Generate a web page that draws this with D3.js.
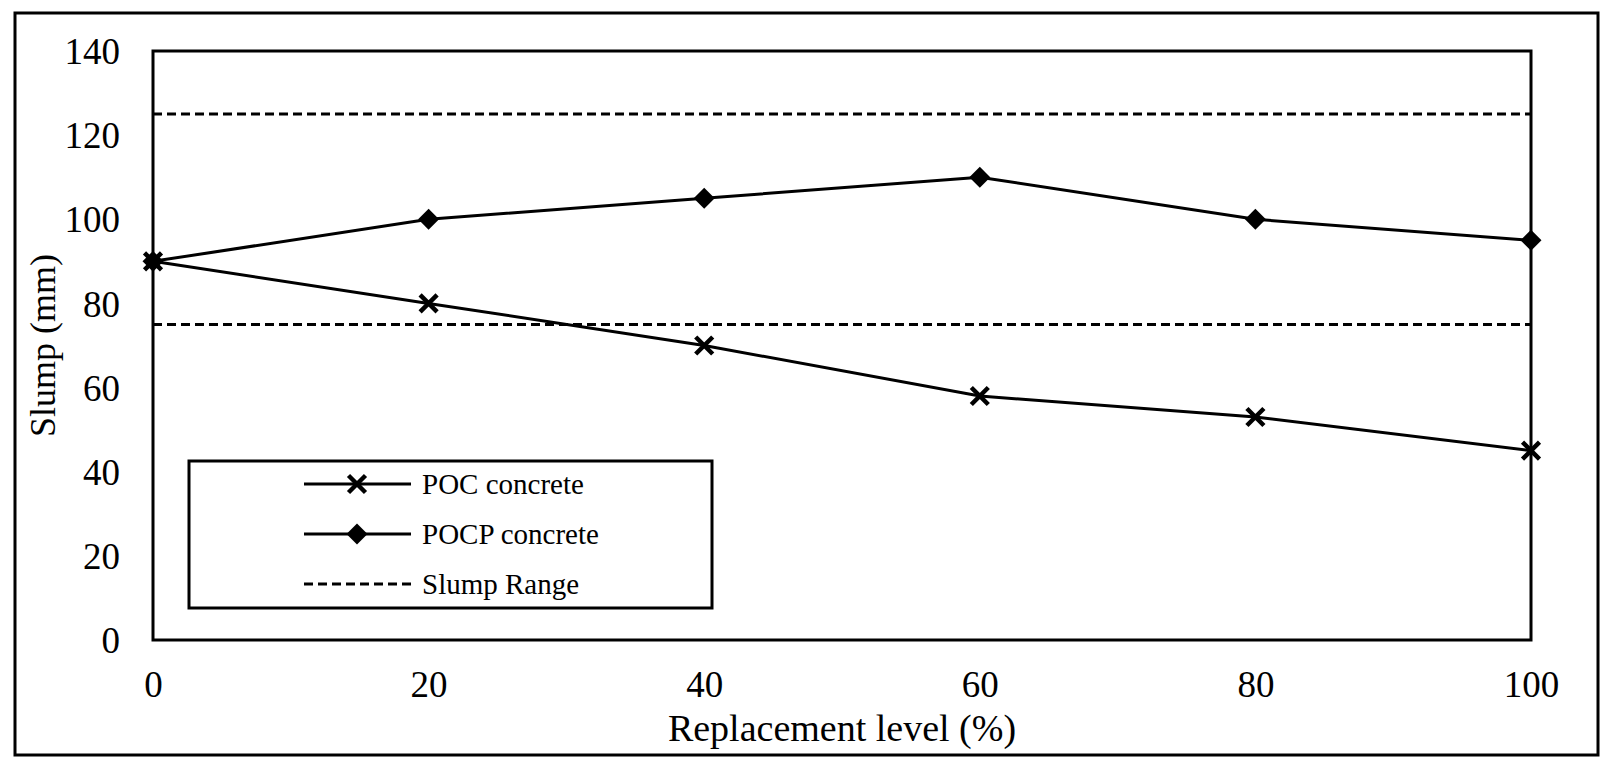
<!DOCTYPE html>
<html>
<head>
<meta charset="utf-8">
<script src="https://cdn.jsdelivr.net/npm/d3@7"></script>
<style>
  body { margin: 0; background: #fff; }
  svg { display: block; }
  svg text { font-family: "Liberation Serif", "Times New Roman", serif; fill: #000; }
</style>
</head>
<body>
<div id="chart1"></div>
<script>
// データ
const levels = [0, 20, 40, 60, 80, 100];
const pocSlump = [90, 80, 70, 58, 53, 45];
const pocpSlump = [90, 100, 105, 110, 100, 95];
const slumpRange = [75, 125];
const xTicks = [0, 20, 40, 60, 80, 100];
const yTicks = [0, 20, 40, 60, 80, 100, 120, 140];
const legendNames = ["POC concrete", "POCP concrete", "Slump Range"];

const W = 1615, H = 775;
const margin = { top: 51, left: 153, right: 84, bottom: 135 };
const width = W - margin.left - margin.right;
const height = H - margin.top - margin.bottom;
const lw = 3;

const svg = d3.select("#chart1").append("svg")
    .attr("width", W)
    .attr("height", H)
    .attr("font-family", "Liberation Serif, serif");

// 外枠
svg.append("rect")
    .attr("x", 15).attr("y", 13)
    .attr("width", 1583).attr("height", 742)
    .attr("fill", "none")
    .attr("stroke", "#000")
    .attr("stroke-width", lw);

const xScale = d3.scaleLinear().domain([0, 100]).range([0, width]);
const yScale = d3.scaleLinear().domain([0, 140]).range([height, 0]);

const g = svg.append("g")
    .attr("transform", `translate(${margin.left},${margin.top})`);

// 軸ラベル
const xAxis = g.append("g")
    .attr("transform", `translate(0,${height})`)
    .call(d3.axisBottom(xScale).tickValues(xTicks).tickSize(0).tickPadding(30));
const yAxis = g.append("g")
    .call(d3.axisLeft(yScale).tickValues(yTicks).tickSize(0).tickPadding(33));

[xAxis, yAxis].forEach(a => {
    a.select(".domain").remove();
    a.selectAll("text")
        .attr("font-family", "Liberation Serif, serif")
        .attr("font-size", "37px")
        .attr("fill", "#000");
});
yAxis.selectAll("text").attr("dy", "0.34em");
xAxis.selectAll("text").attr("dy", "0.72em");

// スランプ範囲（破線）
g.selectAll(".range-line")
    .data(slumpRange)
    .enter()
    .append("line")
    .attr("class", "range-line")
    .attr("x1", 0).attr("x2", width)
    .attr("y1", d => yScale(d)).attr("y2", d => yScale(d))
    .attr("stroke", "#000")
    .attr("stroke-width", lw)
    .attr("stroke-dasharray", "9,5");

// 折れ線
const line = d3.line()
    .x((d, i) => xScale(levels[i]))
    .y(d => yScale(d));

g.append("path").datum(pocSlump)
    .attr("fill", "none").attr("stroke", "#000").attr("stroke-width", lw)
    .attr("d", line);
g.append("path").datum(pocpSlump)
    .attr("fill", "none").attr("stroke", "#000").attr("stroke-width", lw)
    .attr("d", line);

const crossPath = "M-8.5,-8.5L8.5,8.5M-8.5,8.5L8.5,-8.5";
const diamond = d3.symbol().type(d3.symbolDiamond2).size(280);

g.selectAll(".dot-pocp")
    .data(pocpSlump)
    .enter()
    .append("path")
    .attr("class", "dot-pocp")
    .attr("transform", (d, i) => `translate(${xScale(levels[i])},${yScale(d)})`)
    .attr("d", diamond)
    .attr("fill", "#000");

g.selectAll(".dot-poc")
    .data(pocSlump)
    .enter()
    .append("path")
    .attr("class", "dot-poc")
    .attr("transform", (d, i) => `translate(${xScale(levels[i])},${yScale(d)})`)
    .attr("d", crossPath)
    .attr("stroke", "#000")
    .attr("stroke-width", 4.5);

// プロット枠
g.append("rect")
    .attr("width", width).attr("height", height)
    .attr("fill", "none")
    .attr("stroke", "#000")
    .attr("stroke-width", lw);

// 軸タイトル
svg.append("text")
    .attr("x", margin.left + width / 2)
    .attr("y", 741)
    .attr("text-anchor", "middle")
    .attr("font-size", "38px")
    .text("Replacement level (%)");

svg.append("text")
    .attr("transform", `translate(55,${margin.top + height / 2}) rotate(-90)`)
    .attr("text-anchor", "middle")
    .attr("font-size", "36px")
    .text("Slump (mm)");

// 凡例
const legend = svg.append("g");
legend.append("rect")
    .attr("x", 189).attr("y", 461)
    .attr("width", 523).attr("height", 147)
    .attr("fill", "#fff")
    .attr("stroke", "#000")
    .attr("stroke-width", lw);

const legendY = [484, 534, 584];
legendNames.forEach((name, i) => {
    const ly = legendY[i];
    legend.append("line")
        .attr("x1", 304).attr("x2", 411)
        .attr("y1", ly).attr("y2", ly)
        .attr("stroke", "#000")
        .attr("stroke-width", lw)
        .attr("stroke-dasharray", i === 2 ? "9,5" : null);
    if (i === 0) {
        legend.append("path")
            .attr("transform", `translate(357,${ly})`)
            .attr("d", crossPath)
            .attr("stroke", "#000").attr("stroke-width", 4.5);
    } else if (i === 1) {
        legend.append("path")
            .attr("transform", `translate(357,${ly})`)
            .attr("d", diamond)
            .attr("fill", "#000");
    }
    legend.append("text")
        .attr("x", 422).attr("y", ly)
        .attr("dy", "0.33em")
        .attr("font-size", "29px")
        .text(name);
});
</script>
</body>
</html>
